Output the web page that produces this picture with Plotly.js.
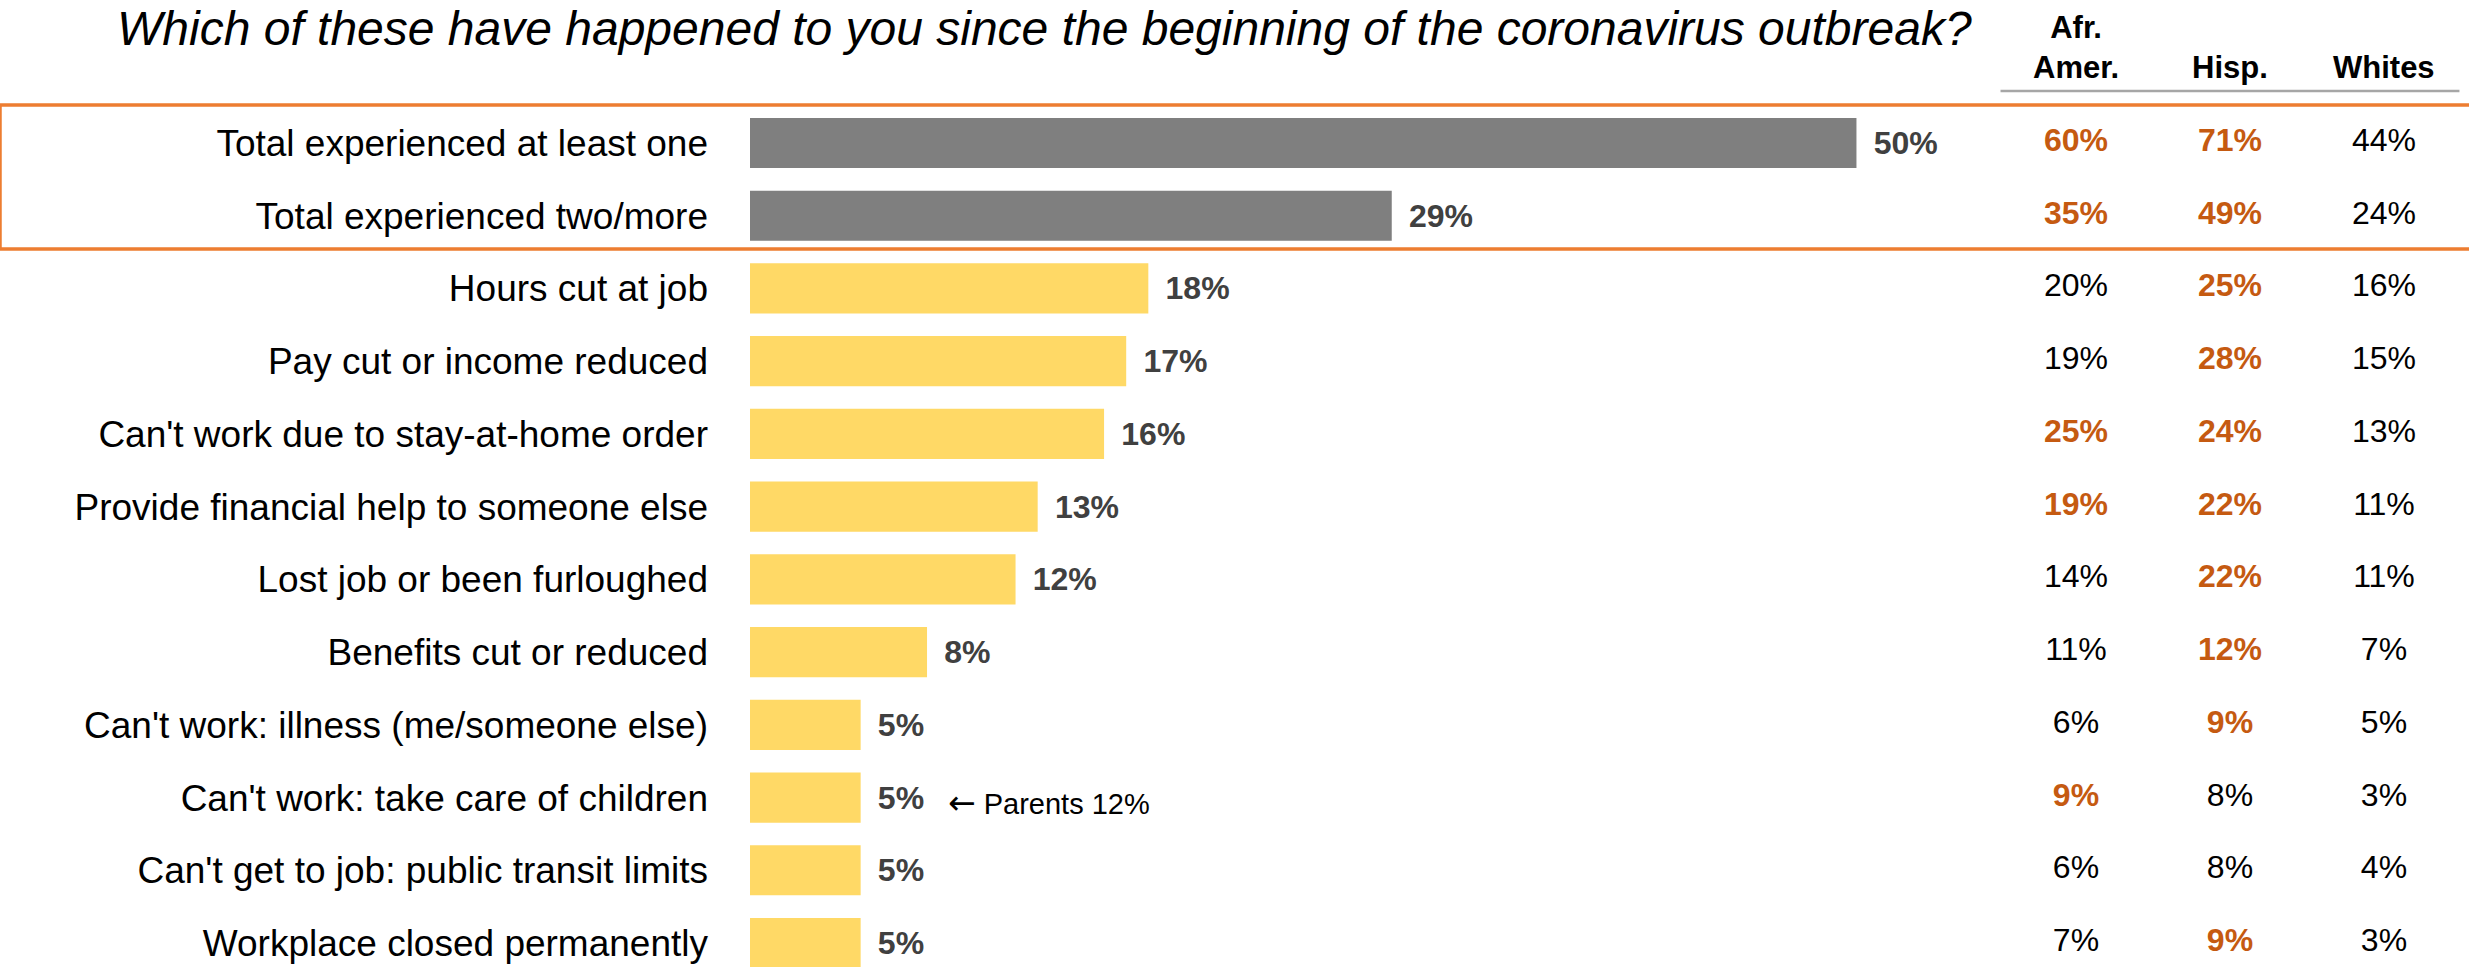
<!DOCTYPE html>
<html><head><meta charset="utf-8">
<script src="https://cdn.plot.ly/plotly-3.0.1.min.js"></script>
<style>html,body{margin:0;padding:0;background:#fff;}#chart{width:2469px;height:967px;}</style>
</head><body><div id="chart"></div>
<script>
const titleText = "Which of these have happened to you since the beginning of the coronavirus outbreak?";
const categories = [
  "Total experienced at least one",
  "Total experienced two/more",
  "Hours cut at job",
  "Pay cut or income reduced",
  "Can't work due to stay-at-home order",
  "Provide financial help to someone else",
  "Lost job or been furloughed",
  "Benefits cut or reduced",
  "Can't work: illness (me/someone else)",
  "Can't work: take care of children",
  "Can't get to job: public transit limits",
  "Workplace closed permanently"
];
const totalValues = [50, 29, 18, 17, 16, 13, 12, 8, 5, 5, 5, 5];
const isTotalRow = [true, true, false, false, false, false, false, false, false, false, false, false];
const groupKeys = ["Afr. Amer.", "Hisp.", "Whites"];
const groupHeaders = ["Afr.<br>Amer.", "Hisp.", "Whites"];
const afrAmerValues = [60, 35, 20, 19, 25, 19, 14, 11, 6, 9, 6, 7];
const hispValues    = [71, 49, 25, 28, 24, 22, 22, 12, 9, 8, 8, 9];
const whitesValues  = [44, 24, 16, 15, 13, 11, 11, 7, 5, 3, 4, 3];
const afrAmerHigh = [1, 1, 0, 0, 1, 1, 0, 0, 0, 1, 0, 0];
const hispHigh    = [1, 1, 1, 1, 1, 1, 1, 1, 1, 0, 0, 1];
const whitesHigh  = [0, 0, 0, 0, 0, 0, 0, 0, 0, 0, 0, 0];
const noteArrow = "\u2190";
const noteText = "Parents 12%";
const noteRowIndex = 9;

const FONT = "Liberation Sans, Arial, sans-serif";
const GRAY = "#7F7F7F", YELLOW = "#FFD966", ORANGE = "#ED7D31", HI = "#C55A11";

const barTrace = {
  type: "bar", orientation: "h",
  x: totalValues, y: categories,
  marker: {color: isTotalRow.map(t => t ? GRAY : YELLOW), line: {width: 0}},
  width: 0.69,
  text: totalValues.map(v => "\u00A0\u2006<b>" + v + "%</b>"),
  texttemplate: "%{text}",
  textposition: "outside",
  constraintext: "none",
  cliponaxis: false,
  textfont: {family: FONT, size: 32, color: "#404040"},
  hoverinfo: "skip", showlegend: false
};

function colTrace(key, vals, high) {
  return {
    type: "scatter", mode: "text", xaxis: "x2", yaxis: "y",
    x: vals.map(() => key), y: categories,
    text: vals.map((v, i) => high[i] ? "<b>" + v + "%</b>" : v + "%"),
    textposition: "middle center",
    textfont: {family: FONT, size: 32, color: high.map(h => h ? HI : "#000000")},
    cliponaxis: false, hoverinfo: "skip", showlegend: false
  };
}

const traces = [
  barTrace,
  colTrace(groupKeys[0], afrAmerValues, afrAmerHigh),
  colTrace(groupKeys[1], hispValues, hispHigh),
  colTrace(groupKeys[2], whitesValues, whitesHigh)
];

const annotations = groupKeys.map((k, i) => ({
  xref: "x2", x: k, yref: "paper", y: 1.0095, yanchor: "bottom", xanchor: "center",
  text: "<b>" + groupHeaders[i] + "</b>", showarrow: false, align: "center",
  font: {family: FONT, size: 31, color: "#000"}
}));
annotations.push({
  xref: "x", x: totalValues[noteRowIndex], yref: "y", y: categories[noteRowIndex],
  xanchor: "left", yanchor: "middle", xshift: 85, yshift: -5,
  text: '<span style="font-family:DejaVu Sans;font-size:33px">' + noteArrow + '</span> ' + noteText,
  showarrow: false,
  font: {family: FONT, size: 29, color: "#000"}
});

const layout = {
  width: 2469, height: 967,
  margin: {l: 750, r: 0, t: 95, b: 0, pad: 0},
  paper_bgcolor: "#fff", plot_bgcolor: "#fff",
  title: {
    text: titleText, xref: "container", x: 0.0474, xanchor: "left",
    yref: "container", y: 0.9712, yanchor: "middle",
    font: {family: FONT, size: 48, color: "#000", style: "italic"}
  },
  xaxis: {range: [0, 77.68], visible: false, fixedrange: true},
  xaxis2: {overlaying: "x", type: "category", categoryorder: "array", categoryarray: groupKeys,
           range: [-8.610, 2.552], visible: false, fixedrange: true},
  yaxis: {type: "category", categoryorder: "array", categoryarray: categories,
          range: [11.33, -0.66], showgrid: false, zeroline: false, showline: false,
          ticks: "", ticklabelstandoff: 41,
          tickfont: {family: FONT, size: 37, color: "#000"}, fixedrange: true},
  bargap: 0.3,
  shapes: [
    {type: "rect", xref: "paper", yref: "paper", x0: -0.4363, x1: 1.01, y0: 0.82339, y1: 0.98853,
     line: {color: ORANGE, width: 3.5}, fillcolor: "rgba(0,0,0,0)", layer: "above"},
    {type: "line", xref: "x2", yref: "paper", x0: -0.49, x1: 2.49, y0: 1.00459, y1: 1.00459,
     line: {color: "#A6A6A6", width: 2.5}}
  ],
  annotations: annotations,
  showlegend: false
};

Plotly.newPlot("chart", traces, layout, {displayModeBar: false, staticPlot: true});
</script>
</body></html>
